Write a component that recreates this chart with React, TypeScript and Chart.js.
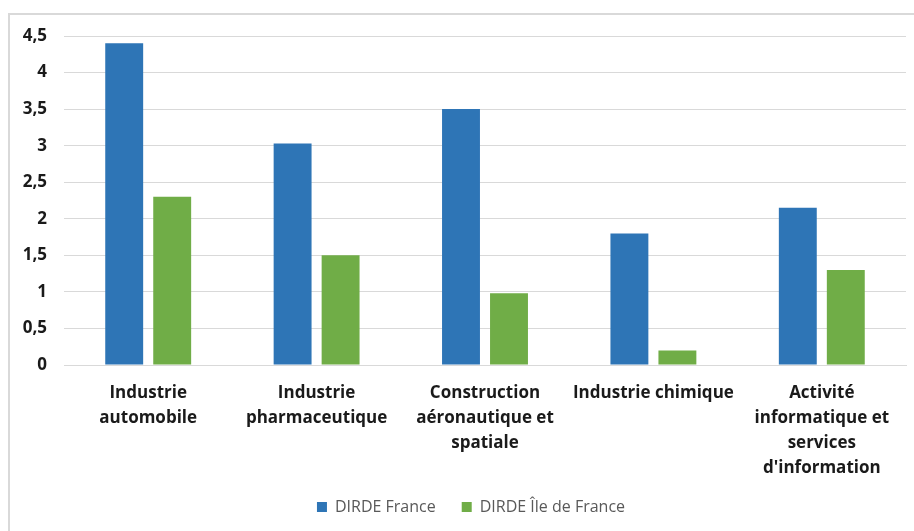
import React, { useEffect, useRef } from "react";
import { Chart, registerables } from "chart.js";

Chart.register(...registerables);

const categories: string[][] = [
  ["Industrie", "automobile"],
  ["Industrie", "pharmaceutique"],
  ["Construction", "aéronautique et", "spatiale"],
  ["Industrie chimique"],
  ["Activité", "informatique et", "services", "d'information"],
];
const dirdeFrance = [4.4, 3.03, 3.5, 1.8, 2.15];
const dirdeIdf = [2.3, 1.5, 0.98, 0.2, 1.3];
const seriesNames = ["DIRDE France", "DIRDE Île de France"];

const FONT = "'Open Sans', 'Noto Sans', sans-serif";

const legendShift = {
  id: "legendShift",
  afterLayout(chart: any) {
    if (chart.legend) chart.legend.left += 26;
  },
};

export default function App() {
  const ref = useRef<HTMLCanvasElement | null>(null);
  useEffect(() => {
    if (!ref.current) return;
    const chart = new Chart(ref.current, {
      type: "bar",
      data: {
        labels: categories,
        datasets: [
          {
            label: seriesNames[0],
            data: dirdeFrance,
            backgroundColor: "#2E75B6",
            categoryPercentage: 0.57,
            barPercentage: 0.79,
          },
          {
            label: seriesNames[1],
            data: dirdeIdf,
            backgroundColor: "#70AD47",
            categoryPercentage: 0.57,
            barPercentage: 0.79,
          },
        ],
      },
      options: {
        animation: false,
        responsive: false,
        maintainAspectRatio: false,
        layout: { padding: { top: 21, right: 12, bottom: 8, left: 0 } },
        plugins: {
          tooltip: { enabled: false },
          legend: {
            position: "bottom",
            labels: {
              boxWidth: 10,
              boxHeight: 10,
              padding: 26,
              color: "#595959",
              font: { family: FONT, size: 16 },
            },
          },
        },
        scales: {
          x: {
            grid: { display: false, drawTicks: false },
            border: { color: "#d9d9d9" },
            ticks: {
              color: "#1a1a1a",
              padding: 16,
              maxRotation: 0,
              autoSkip: false,
              font: { family: FONT, size: 17, weight: "bold", lineHeight: 1.47 },
            },
            afterFit: (s: any) => {
              s.height = 108;
              s.paddingLeft = 0;
              s.paddingRight = 0;
            },
          },
          y: {
            min: 0,
            max: 4.5,
            ticks: {
              stepSize: 0.5,
              padding: 17,
              color: "#1a1a1a",
              font: { family: FONT, size: 17, weight: "bold" },
              callback: (v: any) => String(v).replace(".", ","),
            },
            grid: { color: "#d9d9d9", drawTicks: false },
            border: { display: false },
            afterFit: (s: any) => {
              s.width = 54;
              s.paddingTop = 0;
              s.paddingBottom = 0;
            },
          },
        },
      },
      plugins: [legendShift],
    });
    return () => chart.destroy();
  }, []);
  return (
    <div
      style={{
        position: "fixed",
        left: 8,
        top: 13,
        width: 908,
        height: 518,
        border: "2px solid #d9d9d9",
        boxSizing: "content-box",
        background: "#fff",
      }}
    >
      <canvas ref={ref} width={908} height={518} style={{ display: "block" }} />
    </div>
  );
}
